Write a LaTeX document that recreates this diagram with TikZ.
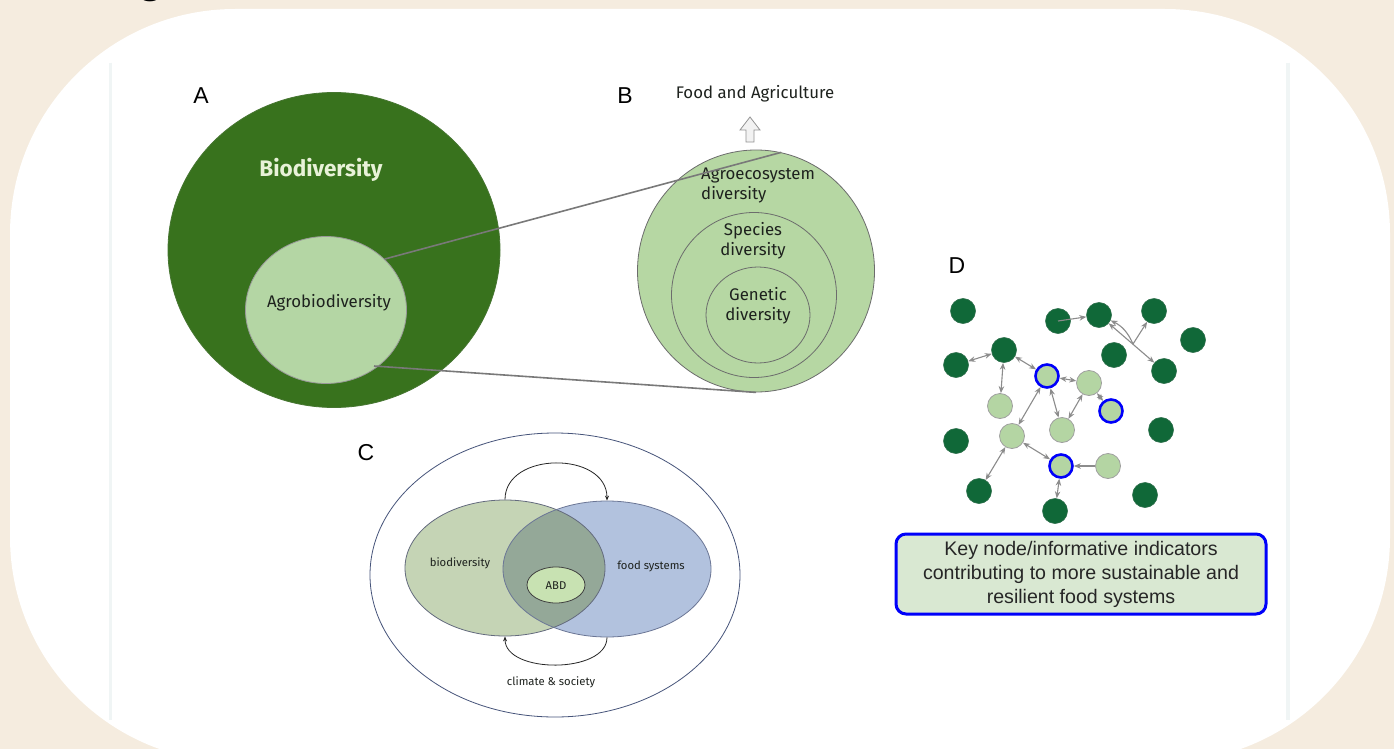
\documentclass[tikz,border=0pt]{standalone}
\usepackage{fontspec}
\setmainfont{Fira Sans}
\newfontfamily\arialf{Liberation Sans}
\usetikzlibrary{arrows.meta,shapes.geometric}
\definecolor{beige}{RGB}{245,236,223}
\definecolor{panelline}{RGB}{240,245,245}
\definecolor{dkgreen}{RGB}{56,114,29}
\definecolor{agrogreen}{RGB}{180,214,164}
\definecolor{biotext}{RGB}{232,242,216}
\definecolor{bgreen}{RGB}{182,215,163}
\definecolor{txtdark}{RGB}{30,34,30}
\definecolor{cgreen}{RGB}{197,212,181}
\definecolor{cblue}{RGB}{178,194,222}
\definecolor{coverlap}{RGB}{148,168,152}
\definecolor{cabd}{RGB}{200,226,178}
\definecolor{couter}{RGB}{70,84,122}
\definecolor{ddark}{RGB}{16,104,56}
\definecolor{dlight}{RGB}{180,213,163}
\definecolor{keyblue}{RGB}{0,0,250}
\definecolor{boxfill}{RGB}{217,232,210}
\tikzset{
  panelletter/.style={font=\arialf\fontsize{23}{26}\selectfont, text=black},
  btext/.style={font=\fontsize{16.8}{20}\selectfont, text=txtdark, inner sep=0},
  ctext/.style={font=\fontsize{11.3}{13}\selectfont, text=txtdark, inner sep=0},
  ring/.style={ellipse, draw=gray!85!black, line width=0.8pt, inner sep=0},
  dk/.style={circle, fill=ddark, draw=ddark!75!gray, line width=0.6pt, minimum size=25pt, inner sep=0},
  lt/.style={circle, fill=dlight, draw=gray!75, line width=0.8pt, minimum size=25pt, inner sep=0},
  keynode/.style={lt, draw=keyblue, line width=2.6pt, minimum size=23pt},
  netedge/.style={draw=gray!90, line width=1.1pt, {Stealth[length=7pt,width=5.5pt]}-{Stealth[length=7pt,width=5.5pt]}},
  oneway/.style={draw=gray!90, line width=1.1pt, -{Stealth[length=7pt,width=5.5pt]}},
  zoomline/.style={draw=gray!95!black, line width=1.6pt},
  cycarrow/.style={draw=black!85, line width=0.8pt, -{Stealth[length=5pt,width=4pt]}}
}
\begin{document}
\begin{tikzpicture}[x=1pt,y=-1pt]
\useasboundingbox (0,0) rectangle (1394,749);
% background and card
\fill[beige] (0,0) rectangle (1394,749);
\node[font=\arialf\bfseries\fontsize{44}{44}\selectfont, anchor=base, inner sep=0] (gcut) at (151,-7) {g};
\fill[white, rounded corners=225pt] (10,9) rectangle (1390,762);
% faint panel edges
\draw[panelline, line width=3pt] (110,63) -- (110,720);
\draw[panelline, line width=4pt] (1288,63) -- (1288,720);

% ---------------- Panel A
\node[panelletter] (la) at (201,96) {A};
\node[ellipse, fill=dkgreen, draw=dkgreen!80!gray, line width=0.8pt, minimum width=332pt, minimum height=315pt, inner sep=0] (bio) at (334,250) {};
\node[font=\bfseries\fontsize{22.5}{26}\selectfont, text=biotext] (biolbl) at (321,170) {Biodiversity};
\node[ellipse, fill=agrogreen, draw=gray!80, line width=0.8pt, minimum width=161pt, minimum height=147pt, inner sep=0] (agro) at (326,310) {};
\node[btext] (agrolbl) at (329,303) {Agrobiodiversity};

% ---------------- Panel B
\node[panelletter] (lb) at (625,96) {B};
\node[btext] (food) at (755,94) {Food and Agriculture};
\draw[draw=gray!85, fill=gray!10, line width=0.8pt, line join=miter]
  (746,142) -- (754,142) -- (754,130) -- (760,130) -- (750,117) -- (740,130) -- (746,130) -- cycle;
\node[ring, fill=bgreen, minimum width=237pt, minimum height=242pt] (bout) at (756,271) {};
\node[ring, minimum width=165pt, minimum height=165pt] (bmid) at (754,295) {};
\node[ring, minimum width=104pt, minimum height=96pt] (binn) at (758,315) {};
\node[btext, anchor=west, align=left] (agroeco) at (701,186) {Agroecosystem\\diversity};
\node[btext, align=center] (species) at (753,241) {Species\\diversity};
\node[btext, align=center] (genetic) at (758,306) {Genetic\\diversity};

% zoom lines A -> B
\coordinate (zl) at (374,366);
\draw[zoomline] (agro.41) -- (bout.78);
\draw[zoomline] (zl) -- (bout.-90);

% ---------------- Panel C
\node[panelletter] (lc) at (366,453) {C};
\node[ellipse, draw=couter, line width=0.8pt, minimum width=370pt, minimum height=284pt, inner sep=0] (couterE) at (555,575) {};
\fill[cgreen] (505,568) ellipse [x radius=100, y radius=68];
\fill[cblue] (607,569) ellipse [x radius=104, y radius=68];
\begin{scope}
  \clip (505,568) ellipse [x radius=100, y radius=68];
  \fill[coverlap] (607,569) ellipse [x radius=104, y radius=68];
\end{scope}
\node[ellipse, draw=gray!50!couter, line width=0.8pt, minimum width=200pt, minimum height=136pt, inner sep=0] (bioC) at (505,568) {};
\node[ellipse, draw=couter!80, line width=0.8pt, minimum width=208pt, minimum height=136pt, inner sep=0] (foodC) at (607,569) {};
\node[ellipse, fill=cabd, draw=black!75, line width=0.8pt, minimum width=58pt, minimum height=36pt, inner sep=0] (abd) at (556,585) {};
\node[ctext] (abdlbl) at (556,586) {ABD};
\node[ctext] (biolblC) at (460,563) {biodiversity};
\node[ctext] (foodlblC) at (651,566) {food systems};
\node[ctext] (climate) at (551,682) {climate \& society};
\draw[cycarrow] (bioC.north) .. controls (505,451) and (607,451) .. (foodC.north);
\draw[cycarrow] (foodC.south) .. controls (607,674) and (505,674) .. (bioC.south);

% ---------------- Panel D
\node[panelletter] (ld) at (957,266) {D};
\node[dk] (d1) at (963,311) {};
\node[dk] (d2) at (1058,321) {};
\node[dk] (d3) at (1099,315) {};
\node[dk] (d4) at (1154,311) {};
\node[dk] (d5) at (1193,340) {};
\node[dk] (d6) at (1114,355) {};
\node[dk] (d7) at (1164,371) {};
\node[dk] (d8) at (956,365) {};
\node[dk] (d9) at (1004,350) {};
\node[dk] (d10) at (956,441) {};
\node[dk] (d11) at (1161,430) {};
\node[dk] (d12) at (979,491) {};
\node[dk] (d13) at (1145,495) {};
\node[dk] (d14) at (1055,511) {};
\node[keynode] (l1) at (1047,376) {};
\node[lt] (l2) at (1089,383) {};
\node[keynode] (l3) at (1111,411) {};
\node[lt] (l4) at (1000,406) {};
\node[lt] (l5) at (1012,436) {};
\node[lt] (l6) at (1062,430) {};
\node[keynode] (l7) at (1061,466) {};
\node[lt] (l8) at (1108,466) {};
\coordinate (j) at (1133,344);
\draw[oneway] (d2.center) -- (d3);
\draw[netedge] (d3) -- (d7);
\draw[oneway] (j) -- (d4);
\draw[oneway] (j) to[bend right=20] (d3.-25);
\draw[netedge] (d9) -- (d8);
\draw[netedge] (d9) -- (l1);
\draw[netedge] (d9) -- (l4);
\draw[netedge] (l1) -- (l2);
\draw[netedge] (l1) -- (l6);
\draw[netedge] (l1) -- (l5);
\draw[netedge] (l2) -- (l6);
\draw[netedge] (l2) -- (l3);
\draw[netedge] (l5) -- (d12);
\draw[netedge] (l5) -- (l7);
\draw[oneway] (l8) -- (l7);
\draw[netedge] (l7) -- (d14);

\node[draw=keyblue, line width=3pt, fill=boxfill, rounded corners=10pt, minimum width=370pt, minimum height=80pt, align=center, text=black!85, font=\arialf\fontsize{19.6}{24}\selectfont] (keybox) at (1081,574) {Key node/informative indicators\\contributing to more sustainable and\\resilient food systems};
\end{tikzpicture}
\end{document}
